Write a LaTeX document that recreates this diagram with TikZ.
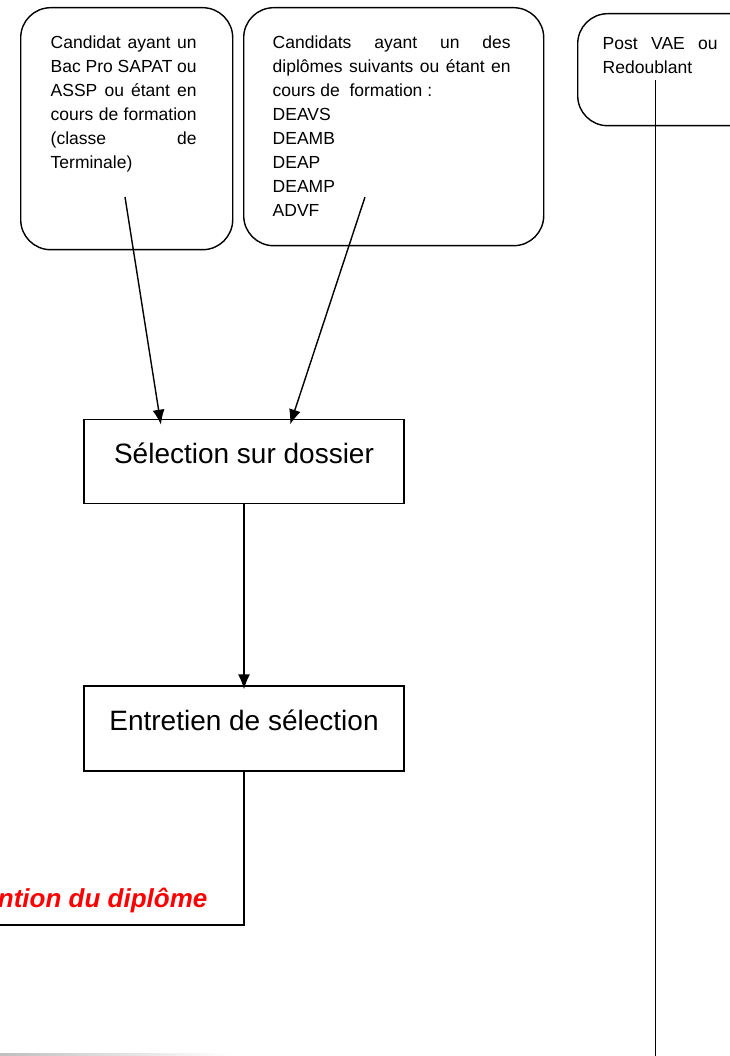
\documentclass[tikz,border=0pt]{standalone}
\usepackage{fontspec}
\setmainfont{Liberation Sans}
\usepackage{tikz}
\usetikzlibrary{arrows.meta}

\begin{document}
\begin{tikzpicture}[x=1pt,y=-1pt,->,>={Latex[length=15pt,width=12pt]},line width=1.4pt,
      round box/.style={draw,rounded corners=30pt,inner sep=0pt,anchor=north west},
      box text/.style={inner sep=0pt,anchor=north west,align=justify,
        font=\fontsize{17.5}{24}\selectfont},
      main box/.style={draw,inner sep=0pt,minimum width=320pt,minimum height=84pt,
        text height=20pt,text depth=17pt,font=\fontsize{28}{32}\selectfont}]

      \useasboundingbox (0,0) rectangle (729,1056);

      \node[round box,minimum width=212pt,minimum height=242pt] (bacbox) at (20,7) {};
      \node[box text,text width=146pt] (bac) at (50,35)
        {Candidat ayant un\linebreak Bac Pro SAPAT ou\linebreak ASSP ou étant en\linebreak
         cours de formation\linebreak (classe de\linebreak Terminale)};

      \node[round box,minimum width=300pt,minimum height=238pt] (diplbox) at (243,7) {};
      \node[box text,text width=238pt] (dipl) at (272,35)
        {Candidats ayant un des\linebreak diplômes suivants ou étant en\linebreak
         cours de\ \ formation :\\ DEAVS\\ DEAMB\\ DEAP\\ DEAMP\\ ADVF};

      \node[round box,minimum width=200pt,minimum height=112pt] (vaebox) at (577,13) {};
      \node[box text,text width=115pt] (vae) at (602,37) {Post VAE ou\linebreak Redoublant};

      \node[main box] (sel) at (244,461.5) {Sélection sur dossier};
      \node[main box,minimum height=85pt] (ent) at (244,728.5) {Entretien de sélection};

      \node[anchor=base east,inner sep=0pt,text=red,
        font=\fontsize{26}{30}\selectfont\bfseries\itshape] (obt) at (208,907) {ntion du diplôme};

      \coordinate (bacout) at (125,197);
      \coordinate (diplout) at (365,197);
      \coordinate (vaetop) at (655.7,80);
      \coordinate (vaebot) at (655.7,1060);
      \coordinate (obtend) at (-5,925);

      \path[shorten >=-6pt]
      (bacout) edge ([xshift=-84pt]sel.north)
      (diplout) edge ([xshift=48pt]sel.north);
      \draw[shorten >=-4pt] (sel) -- (ent);
      \draw[-] (ent.south) |- (obtend);
      \draw[-] (vaetop) -- (vaebot);

      \shade[left color=black!25,right color=white] (0,1053) rectangle (230,1056);
    \end{tikzpicture}
\end{document}
